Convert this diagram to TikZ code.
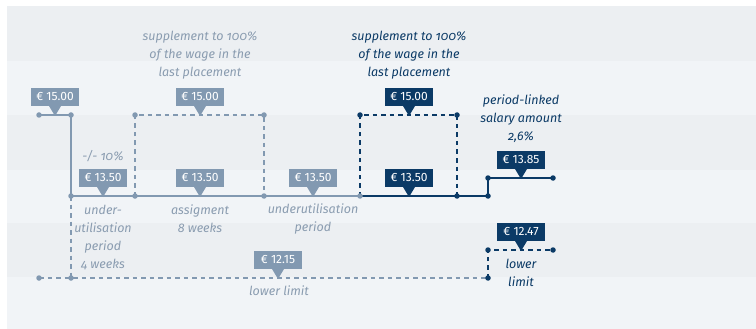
\documentclass[tikz,border=0pt]{standalone}
\usepackage{fontspec}
\setmainfont{Fira Sans}
\usetikzlibrary{positioning}
\definecolor{bandA}{HTML}{ECEFF2}
\definecolor{bandB}{HTML}{F1F4F7}
\definecolor{oldwage}{HTML}{8299B1}
\definecolor{oldtext}{HTML}{8A9CB0}
\definecolor{newwage}{HTML}{0B3A66}
\tikzset{
  x=1pt, y=-1pt,
  wage/.style={line width=1.3pt},
  dashline/.style={line width=1.2pt, dash pattern=on 4.5pt off 4pt},
  dot/.style={circle, fill, inner sep=0pt, minimum size=5.5pt},
  tag/.style={fill, text=white, inner sep=0pt, minimum width=48pt, minimum height=18pt,
    font=\fontsize{12}{14}\selectfont},
  remark/.style={align=center, inner sep=0pt,
    font=\fontsize{12.5}{18}\selectfont\itshape\addfontfeatures{Numbers=OldStyle}}
}
% price tag with a pointer onto the line
\newcommand{\pricetag}[4]{%
  \node[tag, fill=#2, above=9pt of #3, anchor=south] (#1) {#4};
  \fill[#2] ([xshift=-6pt]#1.south) -- ([xshift=6pt]#1.south) -- ([yshift=-1pt]#3) -- cycle;
}
\begin{document}
\begin{tikzpicture}
  \useasboundingbox (0,0) rectangle (756,329);
  % background bands
  \foreach \top/\bot/\c in {6/61/bandA, 61/115/bandB, 115/170/bandA,
                            170/223/bandB, 223/277/bandA, 277/329/bandB}
    \fill[\c] (7,\top) rectangle (756,\bot);

  % points on the wage lines
  \coordinate (s0) at (39,115);
  \coordinate (s1) at (71,115);
  \coordinate (u1) at (71,196);
  \coordinate (u2) at (135,196);
  \coordinate (u3) at (264,196);
  \coordinate (u4) at (360,196);
  \coordinate (u5) at (457,196);
  \coordinate (u6) at (488,196);
  \coordinate (p1) at (488,178);
  \coordinate (p2) at (553,178);
  \coordinate (a1) at (135,115);
  \coordinate (a2) at (264,115);
  \coordinate (b1) at (360,115);
  \coordinate (b2) at (457,115);
  \coordinate (l0) at (39,278);
  \coordinate (l1) at (71,278);
  \coordinate (l2) at (488,278);
  \coordinate (m1) at (488,250);
  \coordinate (m2) at (553,250);
  \coordinate (t1) at (103,196);
  \coordinate (t2) at (200,196);
  \coordinate (t3) at (313,196);
  \coordinate (t4) at (409,196);
  \coordinate (t0) at (55,115);
  \coordinate (ta) at (200,115);
  \coordinate (tb) at (409,115);
  \coordinate (tp) at (521,178);
  \coordinate (tl) at (278,278);
  \coordinate (tm) at (521,250);

  % grey: old placement
  \draw[wage, oldwage] (s0) -- (s1) -- (u1) -- (u2) -- (u3) -- (u4);
  \draw[dashline, oldwage] (u2) -- (a1) -- (a2) -- (u3);
  \draw[dashline, oldwage] (u1) -- (l1);
  \draw[dashline, oldwage] (l0) -- (l2);
  % navy: new placement
  \draw[dashline, newwage] (u4) -- (b1) -- (b2) -- (u5);
  \draw[wage, newwage] (u4) -- (u6) -- (p1) -- (p2);
  \draw[dashline, newwage] (l2) -- (m1) -- (m2);

  \foreach \p in {s0, s1, u1, u2, u3, u4, a1, a2, l0, l1}
    \node[dot, oldwage] at (\p) {};
  \foreach \p in {u5, u6, p1, p2, b1, b2, l2, m1, m2}
    \node[dot, newwage] at (\p) {};

  \pricetag{g0}{oldwage}{t0}{€ 15.00}
  \pricetag{g1}{oldwage}{t1}{€ 13.50}
  \pricetag{g2}{oldwage}{t2}{€ 13.50}
  \pricetag{g3}{oldwage}{t3}{€ 13.50}
  \pricetag{ga}{oldwage}{ta}{€ 15.00}
  \pricetag{gl}{oldwage}{tl}{€ 12.15}
  \pricetag{n4}{newwage}{t4}{€ 13.50}
  \pricetag{nb}{newwage}{tb}{€ 15.00}
  \pricetag{np}{newwage}{tp}{€ 13.85}
  \pricetag{nm}{newwage}{tm}{€ 12.47}

  % remarks
  \node[remark, text=oldtext] (supold) at (200,55) {supplement to 100\%\\of the wage in the\\last placement};
  \node[remark, text=newwage] (supnew) at (409,55) {supplement to 100\%\\of the wage in the\\last placement};
  \node[remark, text=newwage] (linked) at (521,119) {period-linked\\salary amount\\2,6\%};
  \node[remark, text=oldtext] (cut) at (103,156) {-/- 10\%};
  \node[remark, text=oldtext] (under1) at (103,237) {under-\\utilisation\\period\\4 weeks};
  \node[remark, text=oldtext] (assign) at (200,219) {assigment\\8 weeks};
  \node[remark, text=oldtext] (under2) at (313,219) {underutilisation\\period};
  \node[remark, text=oldtext] (lowold) at (279,291) {lower limit};
  \node[remark, text=newwage] (lownew) at (521,273) {lower\\limit};
\end{tikzpicture}
\end{document}
